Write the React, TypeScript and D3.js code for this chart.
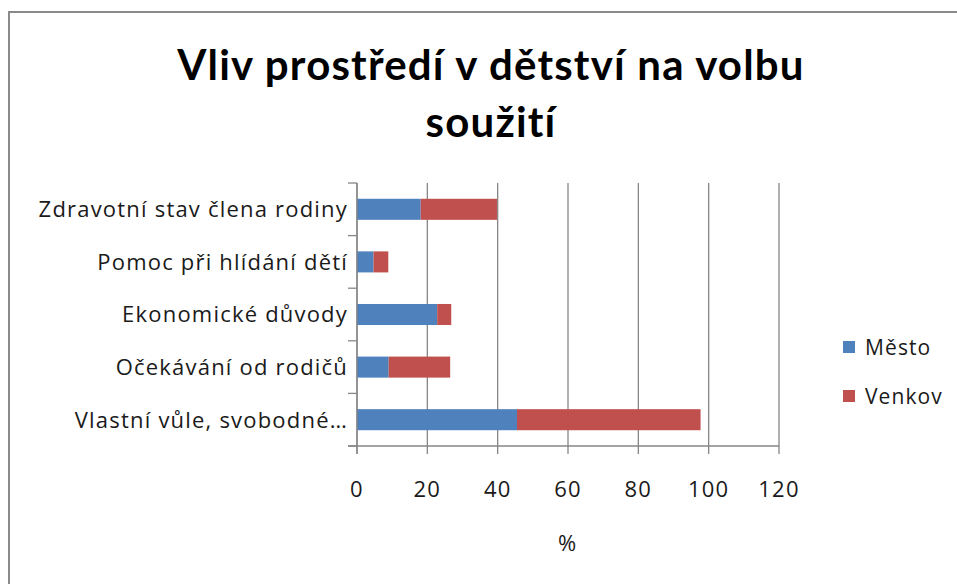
import React from "react";
import * as d3 from "d3";

const categories = [
  "Zdravotní stav člena rodiny",
  "Pomoc při hlídání dětí",
  "Ekonomické důvody",
  "Očekávání od rodičů",
  "Vlastní vůle, svobodné…",
];
const seriesNames = ["Město", "Venkov"];
const mesto = [18.1, 4.7, 22.8, 9.0, 45.5];
const venkov = [21.7, 4.2, 4.0, 17.5, 52.2];
const xTicks = [0, 20, 40, 60, 80, 100, 120];
const colors = ["#4F81BD", "#C0504D"];

const TITLE_FONT = "Lato, sans-serif";
const FONT = "'Open Sans', Lato, sans-serif";

const App = () => {
  const W = 957;
  const H = 584;
  const plot = { left: 357, right: 779, top: 183, bottom: 446 };

  const x = d3.scaleLinear().domain([0, 120]).range([plot.left, plot.right]);
  const y = d3
    .scaleBand<string>()
    .domain(categories)
    .range([plot.top, plot.bottom])
    .paddingInner(0.6)
    .paddingOuter(0.3);
  const band = d3.scaleBand<string>().domain(categories).range([plot.top, plot.bottom]);

  const table = categories.map((c, i) => ({ cat: c, "Město": mesto[i], Venkov: venkov[i] }));
  const stacked = d3.stack<any>().keys(seriesNames)(table);

  return (
    <svg width={W} height={H} style={{ position: "absolute", left: 0, top: 0 }} fontFamily={FONT}>
      <rect x={0} y={0} width={W} height={H} fill="#fff" />
      <rect x={9} y={12} width={W + 20} height={H + 20} fill="none" stroke="#8a8a8a" strokeWidth={2} />

      <g fontFamily={TITLE_FONT} fontSize={42} fontWeight="bold" fill="#000" textAnchor="middle" letterSpacing={1.2}>
        <text x={491} y={80}>Vliv prostředí v dětství na volbu</text>
        <text x={491} y={137}>soužití</text>
      </g>

      {/* vertical gridlines */}
      {xTicks.map((t) => (
        <line key={"g" + t} x1={x(t)} x2={x(t)} y1={plot.top} y2={plot.bottom + 8} stroke="#868686" strokeWidth={1.3} />
      ))}

      {/* bars */}
      {stacked.map((s, si) =>
        s.map((d, i) => (
          <rect
            key={si + "-" + i}
            x={x(d[0])}
            y={y(categories[i])}
            width={x(d[1]) - x(d[0])}
            height={y.bandwidth()}
            fill={colors[si]}
          />
        ))
      )}

      {/* category axis */}
      <line x1={plot.left} x2={plot.left} y1={plot.top} y2={plot.bottom + 8} stroke="#868686" strokeWidth={1.3} />
      {[...categories.map((c) => band(c) as number), plot.bottom].map((v, i) => (
        <line key={"ct" + i} x1={plot.left - 9} x2={plot.left} y1={v} y2={v} stroke="#868686" strokeWidth={1.3} />
      ))}
      {categories.map((c) => (
        <text
          key={c}
          x={348}
          y={(y(c) as number) + y.bandwidth() / 2}
          dy="0.36em"
          textAnchor="end"
          fontSize={22}
          letterSpacing={1.2}
          fill="#1a1a1a"
        >
          {c}
        </text>
      ))}

      {/* value axis */}
      <line x1={plot.left - 9} x2={plot.right} y1={plot.bottom} y2={plot.bottom} stroke="#868686" strokeWidth={1.3} />
      {xTicks.map((t) => (
        <text key={"t" + t} x={x(t)} y={497} textAnchor="middle" fontSize={22} letterSpacing={1.2} fill="#1a1a1a">
          {t}
        </text>
      ))}
      <text x={567} y={551} textAnchor="middle" fontSize={22} fill="#1a1a1a">
        %
      </text>

      {/* legend */}
      {seriesNames.map((n, i) => (
        <g key={n} transform={`translate(843, ${347 + i * 49})`}>
          <rect x={0} y={-6} width={12} height={12} fill={colors[i]} />
          <text x={22} y={0} dy="0.36em" fontSize={21} letterSpacing={1.1} fill="#1a1a1a">
            {n}
          </text>
        </g>
      ))}
    </svg>
  );
};

export default App;
